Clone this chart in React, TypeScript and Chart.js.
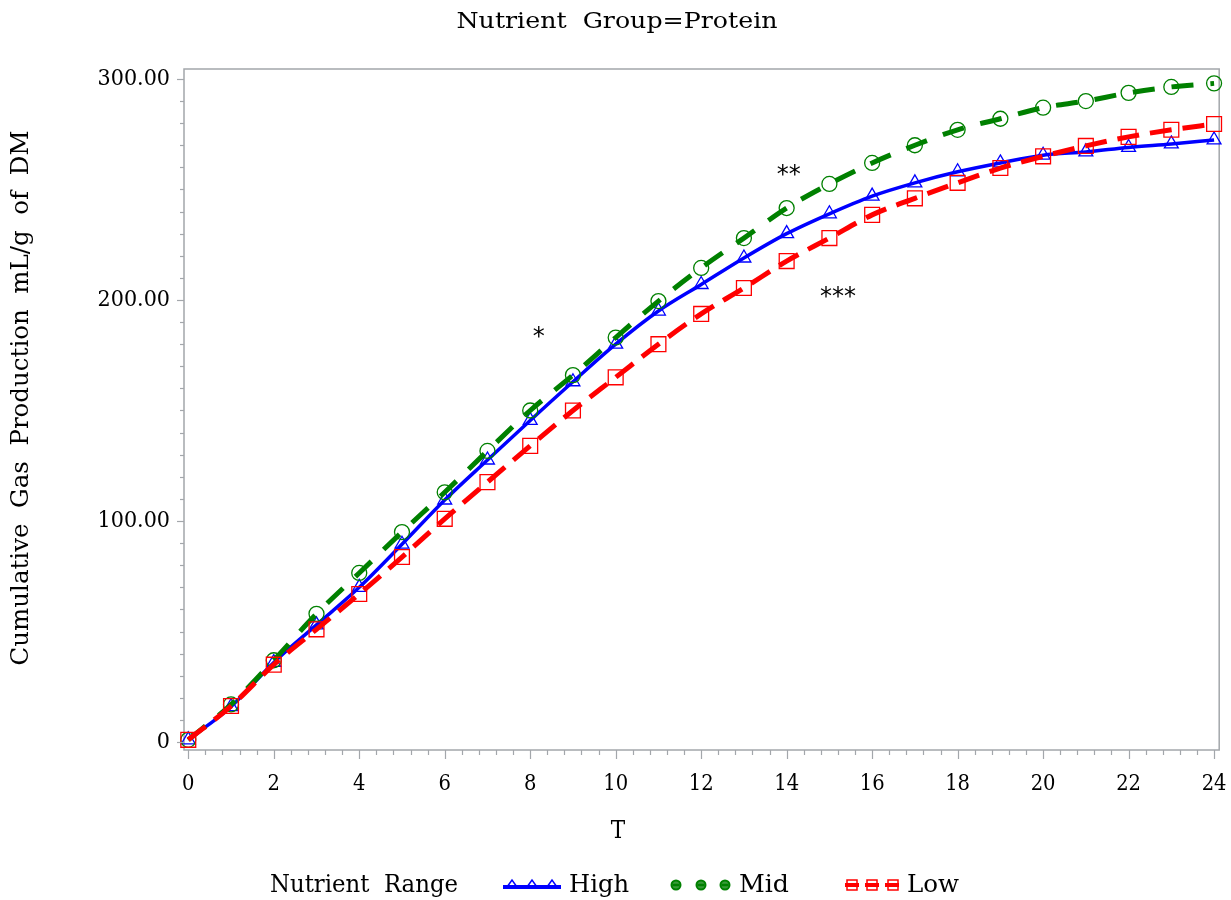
import React, { useEffect, useRef } from "react";
import { Chart, registerables } from "chart.js";

Chart.register(...registerables);

const hours = [0, 1, 2, 3, 4, 5, 6, 7, 8, 9, 10, 11, 12, 13, 14, 15, 16, 17, 18, 19, 20, 21, 22, 23, 24];
const highValues = [1, 16, 36, 53, 70, 89.5, 109.5, 127.6, 145.5, 163, 180, 195, 207, 219, 230, 239, 247, 253, 258, 262, 265.5, 267, 269, 270.6, 272.4];
const midValues = [1, 17, 37, 58, 76.5, 95, 113, 131.7, 150, 166, 183, 199.5, 214.5, 228, 241.6, 252.5, 262, 270, 277, 282, 287, 290, 293.7, 296.4, 298];
const lowValues = [1, 16.3, 35, 51, 67, 83.7, 101, 117.6, 134, 150, 165, 180, 193.7, 205.4, 217.6, 228, 238.5, 246, 253, 259.7, 265, 269.7, 273.8, 277, 279.6];

const yTickValues = [0, 100, 200, 300];
const yTickLabels = ["0", "100.00", "200.00", "300.00"];
const xTickValues = [0, 2, 4, 6, 8, 10, 12, 14, 16, 18, 20, 22, 24];
const xTickLabels = ["0", "2", "4", "6", "8", "10", "12", "14", "16", "18", "20", "22", "24"];

const annotationX = [8.2, 14.05, 15.2];
const annotationY = [183, 256, 201];
const annotationText = ["*", "**", "***"];

const chartTitle = "Nutrient  Group=Protein";
const xTitle = "T";
const yTitle = "Cumulative  Gas  Production  mL/g  of  DM";
const legendTitle = "Nutrient  Range";
const seriesNames = ["High", "Mid", "Low"];

const BLUE = "#0000ff";
const GREEN = "#008000";
const RED = "#ff0000";
const AXIS = "#a3a7ab";
const SERIF = '"DejaVu Serif", "Liberation Serif", serif';

function fitText(ctx: CanvasRenderingContext2D, text: string, cx: number, cy: number, width: number, size: number) {
  ctx.save();
  ctx.font = `${size}px ${SERIF}`;
  ctx.textAlign = "center";
  ctx.textBaseline = "middle";
  const w = ctx.measureText(text).width;
  ctx.translate(cx, cy);
  ctx.scale(width / w, 1);
  ctx.fillStyle = "#000";
  ctx.fillText(text, 0, 0);
  ctx.restore();
}

function leftText(ctx: CanvasRenderingContext2D, text: string, x: number, cy: number, width: number, size: number) {
  ctx.save();
  ctx.font = `${size}px ${SERIF}`;
  ctx.textAlign = "left";
  ctx.textBaseline = "middle";
  const w = ctx.measureText(text).width;
  ctx.translate(x, cy);
  ctx.scale(width / w, 1);
  ctx.fillStyle = "#000";
  ctx.fillText(text, 0, 0);
  ctx.restore();
}

function scaledText(ctx: CanvasRenderingContext2D, text: string, x: number, y: number, sx: number, size: number, align: CanvasTextAlign) {
  ctx.save();
  ctx.font = `${size}px ${SERIF}`;
  ctx.textAlign = align;
  ctx.textBaseline = "middle";
  ctx.translate(x, y);
  ctx.scale(sx, 1);
  ctx.fillStyle = "#000";
  ctx.fillText(text, 0, 0);
  ctx.restore();
}

const framePlugin = {
  id: "framePlugin",
  beforeDatasetsDraw(chart: any) {
    const { ctx, chartArea } = chart;
    ctx.save();
    ctx.strokeStyle = AXIS;
    ctx.lineWidth = 1.5;
    ctx.strokeRect(chartArea.left, chartArea.top, chartArea.right - chartArea.left, chartArea.bottom - chartArea.top);
    ctx.restore();
  },
  afterDraw(chart: any) {
    const { ctx, chartArea } = chart;
    const xs = chart.scales.x;
    const ys = chart.scales.y;
    ctx.save();
    ctx.strokeStyle = AXIS;
    ctx.lineWidth = 1.2;
    for (let v = 0; v <= 300; v += 10) {
      const py = Math.round(ys.getPixelForValue(v)) + 0.5;
      const major = yTickValues.includes(v);
      ctx.beginPath();
      ctx.moveTo(chartArea.left, py);
      ctx.lineTo(chartArea.left - (major ? 7 : 4), py);
      ctx.stroke();
    }
    for (let i = 0; i <= 60; i++) {
      const v = i * 0.4;
      const px = Math.round(xs.getPixelForValue(v)) + 0.5;
      const major = i % 5 === 0;
      ctx.beginPath();
      ctx.moveTo(px, chartArea.bottom);
      ctx.lineTo(px, chartArea.bottom + (major ? 9 : 5));
      ctx.stroke();
    }
    ctx.restore();

    yTickValues.forEach((v, i) => {
      scaledText(ctx, yTickLabels[i], chartArea.left - 14, ys.getPixelForValue(v), 0.9, 23, "right");
    });
    xTickValues.forEach((v, i) => {
      scaledText(ctx, xTickLabels[i], xs.getPixelForValue(v), 784, 0.85, 23, "center");
    });

    fitText(ctx, chartTitle, 617, 22, 321, 23);
    scaledText(ctx, xTitle, 618, 832, 0.9, 24, "center");
    ctx.save();
    ctx.translate(22, 398);
    ctx.rotate(-Math.PI / 2);
    fitText(ctx, yTitle, 0, 0, 535, 24);
    ctx.restore();

    ctx.save();
    ctx.font = `24px "DejaVu Sans", sans-serif`;
    ctx.textAlign = "center";
    ctx.textBaseline = "middle";
    ctx.fillStyle = "#000";
    annotationText.forEach((t, i) => {
      ctx.fillText(t, xs.getPixelForValue(annotationX[i]), ys.getPixelForValue(annotationY[i]));
    });
    ctx.restore();

    const ly = 886;
    leftText(ctx, legendTitle, 270, ly, 188, 24);
    ctx.save();
    ctx.strokeStyle = BLUE;
    ctx.lineWidth = 4;
    ctx.beginPath();
    ctx.moveTo(503, ly + 1);
    ctx.lineTo(561, ly + 1);
    ctx.stroke();
    ctx.lineWidth = 1.5;
    [512, 532, 552].forEach((cx) => {
      ctx.beginPath();
      ctx.moveTo(cx - 5, ly + 1);
      ctx.lineTo(cx, ly - 6);
      ctx.lineTo(cx + 5, ly + 1);
      ctx.closePath();
      ctx.stroke();
    });
    ctx.strokeStyle = GREEN;
    ctx.fillStyle = "#3a9a3a";
    [676, 701, 725].forEach((cx) => {
      ctx.lineWidth = 2;
      ctx.beginPath();
      ctx.arc(cx, ly - 1, 4.5, 0, Math.PI * 2);
      ctx.fill();
      ctx.stroke();
      ctx.lineWidth = 2.5;
      ctx.beginPath();
      ctx.moveTo(cx - 3.5, ly - 1);
      ctx.lineTo(cx + 3.5, ly - 1);
      ctx.stroke();
    });
    ctx.strokeStyle = RED;
    ctx.lineWidth = 4;
    ctx.setLineDash([14, 6]);
    ctx.beginPath();
    ctx.moveTo(845, ly - 1);
    ctx.lineTo(901, ly - 1);
    ctx.stroke();
    ctx.setLineDash([]);
    ctx.lineWidth = 1.5;
    [852, 872, 893].forEach((cx) => {
      ctx.strokeRect(cx - 5, ly - 6, 10, 10);
    });
    ctx.restore();
    leftText(ctx, seriesNames[0], 569, ly, 60, 24);
    leftText(ctx, seriesNames[1], 739, ly, 50, 24);
    leftText(ctx, seriesNames[2], 907, ly, 52, 24);
  },
};

export default function App() {
  const ref = useRef<HTMLCanvasElement | null>(null);
  useEffect(() => {
    document.body.style.margin = "0";
    const canvas = ref.current;
    if (!canvas) return;
    const toPoints = (vals: number[]) => hours.map((h, i) => ({ x: h, y: vals[i] }));
    const chart = new Chart(canvas, {
      type: "line",
      data: {
        datasets: [
          {
            label: seriesNames[0],
            data: toPoints(highValues),
            borderColor: BLUE,
            borderWidth: 3.5,
            pointStyle: "triangle",
            pointRadius: 8,
            pointBorderWidth: 1.3,
            pointBorderColor: BLUE,
            pointBackgroundColor: "rgba(255,255,255,0)",
            cubicInterpolationMode: "monotone",
            clip: false,
            order: 3,
          },
          {
            label: seriesNames[1],
            data: toPoints(midValues),
            borderColor: GREEN,
            borderWidth: 5,
            borderDash: [22, 17],
            pointStyle: "circle",
            pointRadius: 7.5,
            pointBorderWidth: 1.3,
            pointBorderColor: GREEN,
            pointBackgroundColor: "rgba(255,255,255,0)",
            cubicInterpolationMode: "monotone",
            clip: false,
            order: 2,
          },
          {
            label: seriesNames[2],
            data: toPoints(lowValues),
            borderColor: RED,
            borderWidth: 5,
            borderDash: [22, 11],
            pointStyle: "rect",
            pointRadius: 10.5,
            pointBorderWidth: 1.3,
            pointBorderColor: RED,
            pointBackgroundColor: "rgba(255,255,255,0)",
            cubicInterpolationMode: "monotone",
            clip: false,
            order: 1,
          },
        ],
      },
      options: {
        responsive: false,
        animation: false,
        layout: { padding: { top: 69, right: 10, bottom: 0, left: 0 } },
        plugins: {
          legend: { display: false },
          title: { display: false },
          tooltip: { enabled: false },
        },
        scales: {
          x: {
            type: "linear",
            min: -0.1,
            max: 24.12,
            grid: { display: false },
            border: { display: false },
            ticks: { display: false },
            afterFit: (s: any) => {
              s.height = 150;
            },
          },
          y: {
            type: "linear",
            min: -3.6,
            max: 304.5,
            grid: { display: false },
            border: { display: false },
            ticks: { display: false },
            afterFit: (s: any) => {
              s.width = 184;
            },
          },
        },
      },
      plugins: [framePlugin],
    } as any);
    return () => chart.destroy();
  }, []);
  return <canvas ref={ref} width={1231} height={900} style={{ display: "block" }} />;
}
